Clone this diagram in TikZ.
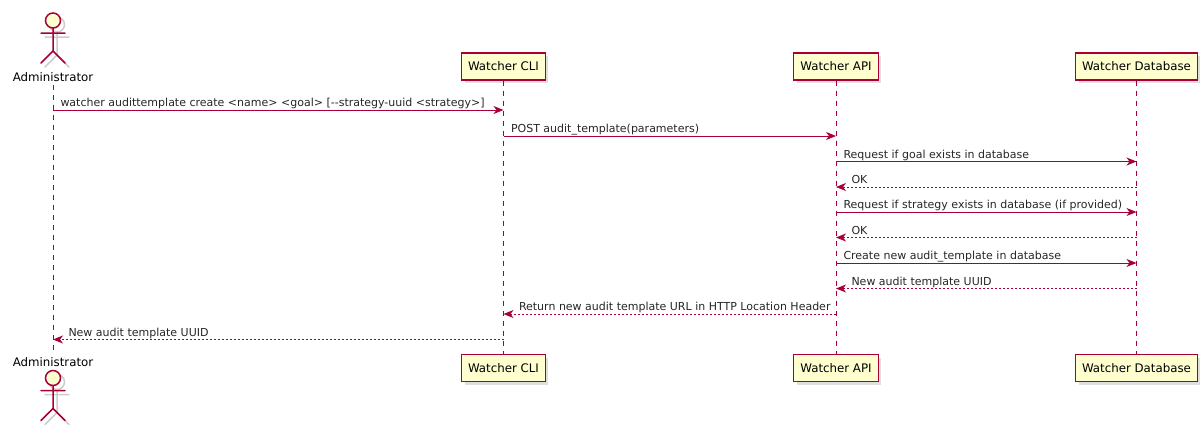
\documentclass[tikz,border=0pt]{standalone}
\usepackage{fontspec}
\setmainfont{DejaVu Sans}
\usetikzlibrary{arrows.meta,shadows,positioning}
\definecolor{umlred}{HTML}{A80036}
\definecolor{umlfill}{HTML}{FEFECE}

\begin{document}
\begin{tikzpicture}[x=1pt, y=-1pt,
    part/.style={draw=umlred, fill=umlfill, line width=1.2pt,
      minimum height=27pt, inner xsep=6.5pt,
      font=\fontsize{11.8}{13}\selectfont,
      drop shadow={shadow xshift=3pt, shadow yshift=-3pt, opacity=.25}},
    life/.style={draw=umlred, line width=0.9pt, dash pattern=on 5pt off 5pt},
    call/.style={draw=umlred, line width=1pt,
      -{Stealth[length=10pt,width=8pt,inset=3pt,fill=umlred]}},
    reply/.style={call, dash pattern=on 2pt off 2pt},
    lbl/.style={text=black!85, font=\fontsize{11}{13}\selectfont,
      anchor=base west, inner sep=0pt, yshift=3.5pt},
    actor/.style={line width=1.5pt, line cap=round}]
  \useasboundingbox (0,0) rectangle (1200,424);

  % participants
  \node[part] (CLI) at (503.5,66.5)  {Watcher CLI};
  \node[part] (API) at (836,66.5)    {Watcher API};
  \node[part] (DB)  at (1136.5,66.5) {Watcher Database};
  \node[part] (CLIb) at (503.5,368)  {Watcher CLI};
  \node[part] (APIb) at (836,368)    {Watcher API};
  \node[part] (DBb)  at (1136.5,368) {Watcher Database};

  % actor, top and bottom
  \foreach \dy in {0, 357.5} {
    \begin{scope}[yshift=-\dy pt]
      \begin{scope}[xshift=4pt, yshift=-4pt, black!20, actor]
        \draw (53,20.5) circle[radius=7.5pt];
        \draw (41,33) -- (65,33) (53,28) -- (53,51)
              (41,63) -- (53,51) -- (65,63);
      \end{scope}
      \begin{scope}[umlred, actor]
        \draw[fill=umlfill] (53,20.5) circle[radius=7.5pt];
        \draw (41,33) -- (65,33) (53,28) -- (53,51)
              (41,63) -- (53,51) -- (65,63);
      \end{scope}
    \end{scope}
  }
  \node[font=\fontsize{11.8}{13}\selectfont, anchor=base] (ADM)  at (53,81)    {Administrator};
  \node[font=\fontsize{11.8}{13}\selectfont, anchor=base] (ADMb) at (53,366.7) {Administrator};

  % lifelines
  \draw[life] (ADM.south)  -- (ADMb.north);
  \draw[life] (CLI.south)  -- (CLIb.north);
  \draw[life] (API.south)  -- (APIb.north);
  \draw[life] (DB.south)   -- (DBb.north);

  % messages
  \path (ADM.south |- 0,110) edge[call]  node[lbl, pos=0, xshift=7pt]  {watcher audittemplate create <name> <goal> [-{}-strategy-uuid <strategy>]} (CLI.south |- 0,110)
        (CLI.south |- 0,136) edge[call]  node[lbl, pos=0, xshift=7pt]  {POST audit\_template(parameters)} (API.south |- 0,136)
        (API.south |- 0,161.5) edge[call]  node[lbl, pos=0, xshift=7pt]  {Request if goal exists in database} (DB.south |- 0,161.5)
        (DB.south |- 0,187) edge[reply] node[lbl, pos=1, xshift=15pt] {OK} (API.south |- 0,187)
        (API.south |- 0,212) edge[call]  node[lbl, pos=0, xshift=7pt]  {Request if strategy exists in database (if provided)} (DB.south |- 0,212)
        (DB.south |- 0,237.5) edge[reply] node[lbl, pos=1, xshift=15pt] {OK} (API.south |- 0,237.5)
        (API.south |- 0,263) edge[call]  node[lbl, pos=0, xshift=7pt]  {Create new audit\_template in database} (DB.south |- 0,263)
        (DB.south |- 0,288.5) edge[reply] node[lbl, pos=1, xshift=15pt] {New audit template UUID} (API.south |- 0,288.5)
        (API.south |- 0,314) edge[reply] node[lbl, pos=1, xshift=15pt] {Return new audit template URL in HTTP Location Header} (CLI.south |- 0,314)
        (CLI.south |- 0,339.5) edge[reply] node[lbl, pos=1, xshift=15pt] {New audit template UUID} (ADM.south |- 0,339.5);
\end{tikzpicture}
\end{document}
